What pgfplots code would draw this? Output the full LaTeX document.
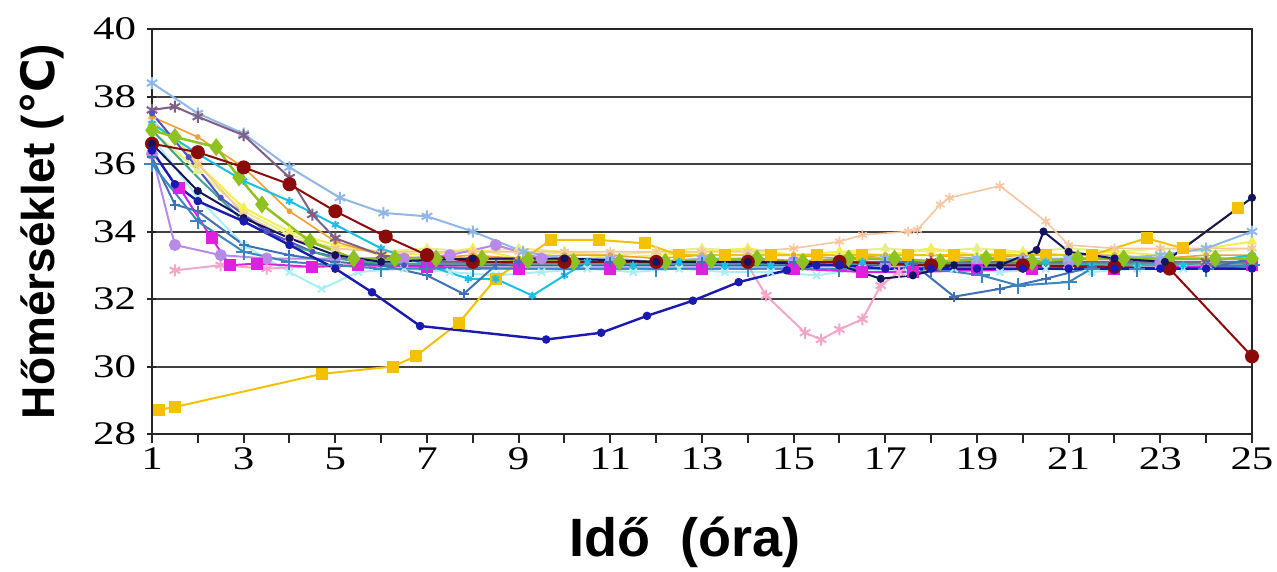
\documentclass[border=0pt]{standalone}
\usepackage{fontspec}
\setmainfont{Liberation Serif}[FakeStretch=1.3]
\newfontfamily\lsans{Liberation Sans}
\newfontfamily\dejavu{DejaVu Sans}
\usepackage{pgfplots}
\pgfplotsset{compat=1.18}
\definecolor{cgold}{HTML}{F2C200}
\definecolor{cnavy}{HTML}{1A1AB0}
\definecolor{cmaroon}{HTML}{8B0A0A}
\definecolor{cgreen}{HTML}{8DC21F}
\definecolor{clblue}{HTML}{8FB8E8}
\definecolor{cgpurple}{HTML}{7F6084}
\definecolor{ccyan}{HTML}{18C0E8}
\definecolor{csteel}{HTML}{3F6FB5}
\definecolor{cteal}{HTML}{3A86C0}
\definecolor{cmagenta}{HTML}{E020E0}
\definecolor{clav}{HTML}{B88AE8}
\definecolor{cpink}{HTML}{F4A6C8}
\definecolor{cpeach}{HTML}{F7C59F}
\definecolor{cyell}{HTML}{F6EE50}
\definecolor{cpyg}{HTML}{E4F08A}
\definecolor{cdnavy}{HTML}{14145E}
\definecolor{ctealg}{HTML}{3FA58C}
\definecolor{clcyan}{HTML}{A8EEF4}
\definecolor{cpblue}{HTML}{5050C8}
\definecolor{corange}{HTML}{F0A030}
\begin{document}
\begin{tikzpicture}
\begin{axis}[
  scale only axis, width=1100pt, height=405pt,
  xmin=1, xmax=25, ymin=28, ymax=40,
  xtick={1,3,...,25}, minor xtick={2,4,...,24},
  ytick={28,30,...,40},
  tick pos=left,
  ymajorgrids, grid style={line width=2pt, black!75},
  axis line style={line width=2pt, black!85},
  every tick/.style={line width=2pt, black!85},
  xtick align=outside, ytick align=center,
  major tick length=9pt, minor tick length=9pt,
  /pgf/number format/assume math mode=true,
  tick label style={font=\fontsize{33}{33}\selectfont, text=black},
  xticklabel style={yshift=-1pt},
  yticklabel style={xshift=-8pt},
  xlabel={\lsans\bfseries Idő\ \ (óra)},
  ylabel={\lsans\bfseries Hőmérséklet ({\dejavu\bfseries ℃})},
  xlabel style={font=\fontsize{54}{54}\selectfont, at={(axis description cs:0.5,0)}, anchor=center, yshift=-108pt, xshift=-17pt},
  ylabel style={font=\fontsize{46}{46}\selectfont, at={(axis description cs:0,0.5)}, anchor=center, yshift=110pt},
  clip=true,
]
% pale yellow-green
\addplot[color=cpyg, line width=2pt, mark=triangle*, mark size=4pt] coordinates {(1,37.0)(2,35.8)(3,34.6)(4,33.9)(5,33.5)(6,33.4)(7,33.5)(8,33.4)(9,33.5)(10,33.4)(11,33.3)(12,33.4)(13,33.5)(14,33.4)(15,33.3)(16,33.4)(17,33.5)(18,33.4)(19,33.5)(20,33.4)(21,33.5)(22,33.4)(23,33.5)(24,33.4)(25,33.5)};
% light yellow
\addplot[color=cyell, line width=2pt, mark=triangle*, mark size=4pt] coordinates {(1,37.2)(1.5,36.8)(2,36.0)(3,34.7)(4,34.0)(5,33.6)(6,33.4)(7,33.3)(8,33.5)(9,33.2)(10,33.4)(11,33.2)(12,33.3)(13,33.4)(14,33.5)(15,33.3)(16,33.4)(17,33.3)(18,33.5)(19,33.3)(20,33.4)(21,33.3)(22,33.4)(23,33.3)(24,33.5)(25,33.7)};
% peach asterisk
\addplot[color=cpeach, line width=1.6pt, mark=asterisk, mark size=5pt] coordinates {(1,37.3)(2,36.0)(3,34.5)(4,33.8)(5,33.5)(6,33.4)(7,33.4)(8,33.4)(9,33.4)(10,33.4)(11,33.4)(12,33.4)(13,33.4)(14,33.4)(15,33.5)(16,33.7)(16.5,33.9)(17.5,34.0)(17.7,34.05)(18.2,34.8)(18.4,35.0)(19.5,35.35)(20.5,34.3)(21,33.6)(22,33.5)(23,33.5)(24,33.5)(25,33.5)};
% light cyan
\addplot[color=clcyan, line width=2pt, mark=x, mark size=5pt] coordinates {(1,36.8)(2,35.0)(3,33.6)(4,32.8)(4.7,32.3)(5.5,32.8)(6.5,32.9)(7.5,32.8)(8.5,32.7)(9.5,32.8)(10.5,32.9)(11.5,32.8)(12.5,32.9)(13.5,32.8)(14.5,32.8)(15.5,32.7)(16.5,32.9)(17.5,32.8)(18.5,32.9)(19.5,32.8)(20.5,32.9)(21.5,32.8)(22.5,32.9)(23.5,32.9)(25,33.0)};
% orange
\addplot[color=corange, line width=1.6pt, mark=*, mark size=2pt] coordinates {(1,37.4)(2,36.8)(3,35.9)(4,34.6)(5,33.7)(6,33.3)(7,33.2)(8,33.3)(9,33.2)(10,33.3)(11,33.3)(12,33.2)(13,33.3)(14,33.3)(15,33.3)(16,33.2)(17,33.3)(18,33.3)(19,33.2)(20,33.3)(21,33.3)(22,33.3)(23,33.2)(24,33.3)(25,33.3)};
% pink asterisk
\addplot[color=cpink, line width=2pt, mark=asterisk, mark size=6pt] coordinates {(1.5,32.85)(2.5,33.0)(3.5,32.9)(5,33.0)(7,33.0)(9,33.0)(11,33.0)(13,33.0)(14,33.0)(14.4,32.1)(15.25,31.0)(15.6,30.8)(16,31.1)(16.5,31.4)(16.9,32.4)(17.3,32.8)(18,33.0)(19,33.0)(20,33.0)(21,33.0)(22,33.0)(23,33.0)(24,33.0)(25,33.0)};
% lavender
\addplot[color=clav, line width=2pt, mark=*, mark size=5pt] coordinates {(1,36.3)(1.5,33.6)(2.5,33.3)(3.5,33.2)(5,33.2)(6.5,33.2)(7.5,33.3)(8.5,33.6)(9.5,33.2)(11,33.1)(13,33.1)(15,33.1)(17,33.0)(19,33.1)(21,33.1)(23,33.1)(25,33.1)};
% gold squares
\addplot[color=cgold, line width=2pt, mark=square*, mark size=5pt] coordinates {(1.15,28.72)(1.5,28.8)(4.7,29.78)(6.25,30.0)(6.75,30.3)(7.7,31.3)(8.5,32.6)(9.7,33.75)(10.75,33.75)(11.75,33.65)(12.5,33.3)(13.5,33.3)(14.5,33.3)(15.5,33.3)(16.5,33.3)(17.5,33.3)(18.5,33.3)(19.5,33.3)(20.5,33.3)(21.5,33.3)(22.7,33.8)(23.5,33.5)(24.7,34.7)};
% light blue asterisk (top)
\addplot[color=clblue, line width=2pt, mark=asterisk, mark size=6pt] coordinates {(1,38.4)(2,37.5)(3,36.9)(4,35.9)(5.1,35.0)(6.05,34.55)(7,34.45)(8,34.0)(9.1,33.4)(10,33.2)(11,33.2)(12,33.1)(13,33.2)(14,33.2)(15,33.1)(16,33.2)(17,33.2)(18,33.1)(19,33.2)(20,33.2)(21,33.2)(22,33.2)(23,33.3)(24,33.5)(25,34.0)};
% cyan
\addplot[color=ccyan, line width=2pt, mark=asterisk, mark size=4pt] coordinates {(1,37.2)(2,36.3)(3,35.5)(4,34.9)(5,34.2)(6,33.5)(7,33.0)(7.9,32.6)(8.5,32.6)(9.3,32.1)(10,32.7)(10.5,33.1)(11.5,33.0)(12.5,33.1)(13.5,33.0)(14.5,33.0)(15.5,33.0)(16.5,33.1)(17.5,33.0)(18.5,33.0)(19.5,33.0)(20.5,33.1)(21.5,33.0)(22.5,33.0)(23.5,33.0)(25,33.3)};
% gray purple asterisk
\addplot[color=cgpurple, line width=2pt, mark=asterisk, mark size=6pt] coordinates {(1,37.6)(1.5,37.7)(2,37.4)(3,36.85)(4,35.6)(4.5,34.5)(5,33.8)(6,33.3)(7,33.1)(8,33.1)(9,33.1)(10,33.1)(12,33.1)(14,33.1)(16,33.1)(18,33.1)(20,33.1)(22,33.1)(24,33.1)(25,33.1)};
% purple-blue
\addplot[color=cpblue, line width=2pt, mark=*, mark size=2pt] coordinates {(1,37.5)(1.8,36.2)(2.5,35.0)(3.5,34.0)(4.5,33.4)(5.5,33.1)(6.5,33.0)(8,33.0)(10,33.0)(12,33.0)(14,33.0)(16,33.0)(18,33.0)(20,33.0)(22,32.9)(24,32.9)(25,33.0)};
% magenta squares
\addplot[color=cmagenta, line width=2pt, mark=square*, mark size=5pt] coordinates {(1.6,35.3)(2.3,33.8)(2.7,33.0)(3.3,33.05)(4.5,32.95)(5.5,33.0)(7,32.95)(9,32.9)(11,32.9)(13,32.9)(15,32.9)(16.5,32.8)(17.6,32.8)(19,32.85)(20.2,32.9)(22,32.9)(25,33.0)};
% teal-green
\addplot[color=ctealg, line width=2pt] coordinates {(1,37.0)(2,35.6)(3,34.3)(4,33.6)(5,33.2)(6,33.05)(8,33.05)(10,33.05)(12,33.05)(14,33.05)(16,33.05)(18,33.05)(20,33.05)(22,33.05)(24,33.05)(25,33.05)};
% steel blue
\addplot[color=csteel, line width=2pt, mark=+, mark size=5pt] coordinates {(1,36.2)(1.5,34.8)(2,34.6)(3,33.6)(4,33.3)(5,33.1)(6,33.0)(7,32.7)(7.8,32.15)(8.5,33.0)(9,33.1)(10,33.1)(11,33.1)(12,33.1)(13,33.1)(14,33.1)(15,33.1)(16,33.1)(17,33.1)(17.6,33.05)(18.5,32.07)(19.5,32.3)(20.5,32.6)(21.5,32.95)(22.5,32.9)(24,32.9)(25,33.2)};
% teal-blue plus
\addplot[color=cteal, line width=2pt, mark=+, mark size=8pt] coordinates {(1,36.0)(2,34.3)(3,33.4)(4,33.1)(5,33.0)(6,32.9)(7,32.9)(8,32.9)(10,32.9)(12,32.9)(14,32.9)(16,32.9)(18,32.9)(19.1,32.7)(19.9,32.4)(21,32.5)(21.5,32.9)(22.5,32.9)(24,32.9)(25,33.0)};
% green diamonds
\addplot[color=cgreen, line width=2.5pt, mark=diamond*, mark size=7pt] coordinates {(1,37.0)(1.5,36.8)(2.4,36.5)(2.9,35.6)(3.4,34.8)(4.45,33.7)(5.4,33.2)(6.3,33.2)(7.2,33.2)(8.2,33.2)(9.2,33.15)(10.2,33.1)(11.2,33.1)(12.2,33.1)(13.2,33.15)(14.2,33.2)(15.2,33.1)(16.2,33.2)(17.2,33.2)(18.2,33.1)(19.2,33.2)(20.2,33.1)(21.2,33.2)(22.2,33.2)(23.2,33.2)(24.2,33.2)(25,33.2)};
% maroon circles
\addplot[color=cmaroon, line width=2pt, mark=*, mark size=6pt] coordinates {(1,36.6)(2,36.35)(3,35.9)(4,35.4)(5,34.6)(6.1,33.85)(7,33.3)(8,33.1)(10,33.1)(12,33.1)(14,33.1)(16,33.1)(18,33.0)(20,33.0)(22,32.95)(23.2,32.9)(25,30.3)};
% dark navy
\addplot[color=cdnavy, line width=2pt, mark=*, mark size=3pt] coordinates {(1,36.6)(2,35.2)(3,34.4)(4,33.8)(5,33.3)(6,33.1)(8,33.2)(10,33.2)(12,33.1)(14,33.1)(16,33.0)(16.9,32.6)(17.6,32.7)(18.5,33.0)(19.5,33.0)(20.3,33.45)(20.45,34.0)(21,33.4)(22,33.2)(23.1,33.1)(25,35.0)};
% navy circles
\addplot[color=cnavy, line width=2.4pt, mark=*, mark size=3pt] coordinates {(1,36.4)(1.5,35.4)(2,34.9)(3,34.3)(4,33.6)(5,32.9)(5.8,32.2)(6.85,31.2)(9.6,30.8)(10.8,31.0)(11.8,31.5)(12.8,31.95)(13.8,32.5)(14.85,32.85)(15.5,33.0)(16,33.0)(17,32.9)(18,32.9)(19,32.9)(20,32.9)(21,32.9)(22,32.9)(23,32.9)(24,32.9)(25,32.9)};
\end{axis}
\path[use as bounding box] (-152pt,-137pt) rectangle (1125pt,434pt);
\end{tikzpicture}
\end{document}
